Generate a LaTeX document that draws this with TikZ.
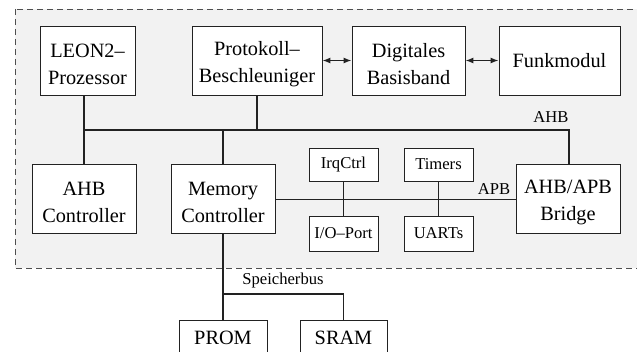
\documentclass[tikz,border=0pt]{standalone}
\usepackage{fontspec}
\setmainfont{Liberation Serif}
\usetikzlibrary{arrows.meta}
\definecolor{bggray}{HTML}{F2F2F2}
\definecolor{linecol}{HTML}{222222}
\newcommand{\upstrut}{\rule{0pt}{21pt}}
\tikzset{
  box/.style={draw=linecol, line width=0.9pt, fill=white, inner sep=0pt, align=center,
    font=\fontsize{20.3}{27}\selectfont},
  smallbox/.style={draw=linecol, line width=0.9pt, fill=white, inner sep=0pt, align=center,
    font=\fontsize{16.6}{20}\selectfont},
  bus/.style={draw=linecol, line width=1.4pt},
  apb/.style={draw=linecol, line width=0.8pt},
  lbl/.style={inner sep=0pt, font=\fontsize{16.6}{20}\selectfont},
  darr/.style={draw=linecol, line width=1.2pt, {Latex[length=8pt,width=6pt]}-{Latex[length=8pt,width=6pt]}},
}
\begin{document}
\begin{tikzpicture}[x=1pt,y=-1pt]
\useasboundingbox (0,0) rectangle (637,352);
\clip (0,0) rectangle (637,352);
\draw[fill=bggray, draw=linecol!80, line width=0.8pt, dash pattern=on 6pt off 4pt] (15,9) rectangle (660,268);

\node[box, minimum width=95pt, minimum height=69pt] (leon) at (87.5,60.5) {\upstrut LEON2–\\Prozessor};
\node[box, minimum width=130pt, minimum height=69pt] (proto) at (257,60.5) {\upstrut Protokoll–\\Beschleuniger};
\node[box, minimum width=113pt, minimum height=69pt] (digi) at (408.5,60.5) {\upstrut Digitales\\Basisband};
\node[box, minimum width=121pt, minimum height=69pt] (funk) at (559.5,60.5) {Funkmodul};

\node[box, minimum width=104pt, minimum height=69pt] (ahbc) at (84,198.5) {\upstrut AHB\\Controller};
\node[box, minimum width=104pt, minimum height=69pt] (mem) at (223,198.5) {\upstrut Memory\\Controller};
\node[box, minimum width=104pt, minimum height=69pt] (bridge) at (568,198.5) {\upstrut AHB/APB\\Bridge};

\node[smallbox, minimum width=69pt, minimum height=33pt] (irq) at (343.5,164.5) {IrqCtrl};
\node[smallbox, minimum width=69pt, minimum height=33pt] (timers) at (438.5,164.5) {Timers};
\node[smallbox, minimum width=69pt, minimum height=35pt] (io) at (343.5,233.5) {I/O–Port};
\node[smallbox, minimum width=69pt, minimum height=35pt] (uarts) at (438.5,233.5) {UARTs};

\node[box, minimum width=88pt, minimum height=36pt] (prom) at (223,338) {PROM};
\node[box, minimum width=87pt, minimum height=36pt] (sram) at (343.5,338) {SRAM};

\coordinate (busy) at (0,130);
\coordinate (sby) at (0,294);

% AHB bus
\draw[bus] (leon.south -| ahbc.north) -- (ahbc.north);
\draw[bus] (ahbc.north |- busy) -- (569,130) -- (569,164);
\draw[bus] (proto.south) -- (proto.south |- busy);
\draw[bus] (mem.north |- busy) -- (mem.north);

% APB bus
\draw[apb] (275,199) -- (516,199);
\draw[apb] (irq.south) -- (io.north);
\draw[apb] (timers.south) -- (uarts.north);

% Speicherbus
\draw[bus] (mem.south) -- (prom.north);
\draw[bus] (mem.south |- sby) -- (sram.north |- sby) -- (sram.north);

% arrows
\draw[darr] (proto.east) -- (digi.west);
\draw[darr] (digi.east) -- (funk.west);

\node[lbl] (ahblbl) at (551,117) {AHB};
\node[lbl] (apblbl) at (494,189) {APB};
\node[lbl] (sblbl) at (283,281) {Speicherbus};
\end{tikzpicture}
\end{document}
